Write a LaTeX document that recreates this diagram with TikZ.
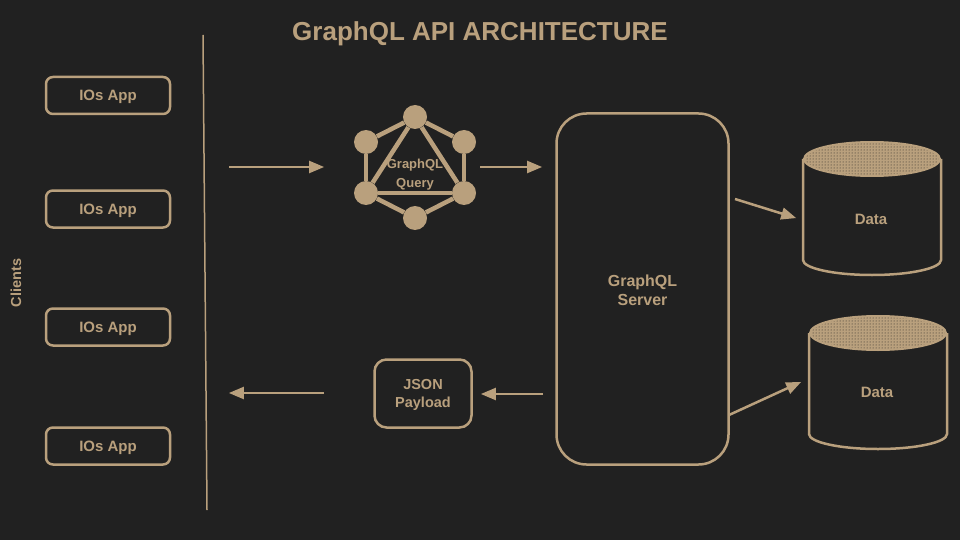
\documentclass[tikz,border=0pt]{standalone}
\usepackage{fontspec}
\setmainfont{Liberation Sans}
\usetikzlibrary{arrows,shapes.geometric,patterns}
\definecolor{tan}{HTML}{B9A07D}
\definecolor{bgdark}{HTML}{212121}
\tikzstyle{appbox}=[draw=tan,line width=2.5pt,rounded corners=7pt,minimum width=124pt,minimum height=37pt,inner sep=0pt,font=\fontsize{15}{18}\selectfont\bfseries,text=tan]
\tikzstyle{vertex}=[circle,fill=tan,minimum size=24pt,inner sep=0pt]
\tikzstyle{spoke}=[draw=tan,line width=4.5pt]
\tikzstyle{edge}=[draw=tan,line width=2.5pt,-triangle 45]
\tikzstyle{dbwall}=[draw=tan,line width=2.5pt]
\tikzstyle{dbtop}=[ellipse,draw=tan,line width=2pt,minimum width=136pt,minimum height=34pt,inner sep=0pt,preaction={fill=tan},pattern=dots,pattern color=bgdark]
\tikzstyle{tag}=[text=tan,align=center,font=\fontsize{14.5}{19}\selectfont\bfseries]
\begin{document}
\begin{tikzpicture}[x=1pt,y=-1pt]
	\fill[bgdark] (0,0) rectangle (960,540);
	\useasboundingbox (0,0) rectangle (960,540);

	\node[text=tan,font=\fontsize{26}{30}\selectfont\bfseries] (title) at (480,34) {GraphQL API ARCHITECTURE};
	\node[tag,rotate=90] (clients) at (16,283) {Clients};

	% clients
	\foreach \pos/\name in {{(108,95.5)/app1}, {(108,209)/app2}, {(108,327)/app3}, {(108,446)/app4}}
	\node[appbox,text depth=0pt] (\name) at \pos {IOs App};

	\coordinate (railtop) at (203,35);
	\coordinate (railend) at (207,510);
	\draw[tan,line width=1.5pt] (railtop) -- (railend);

	% query logo
	\foreach \pos/\name in {{(415,117)/top}, {(366,142)/ul}, {(464,142)/ur},
							{(366,193)/ll}, {(464,193)/lr}, {(415,218)/bot}}
	\node[vertex] (\name) at \pos {};

	\foreach \source/ \dest in {top/ul, ul/ll, ll/bot, bot/lr, lr/ur, ur/top, top/ll, ll/lr, lr/top}
	\path[spoke] (\source) -- (\dest);

	\node[tag,font=\fontsize{13}{19}\selectfont\bfseries] (query) at (415,174.5) {GraphQL\\Query};

	% server and json box
	\node[draw=tan,line width=2.5pt,rounded corners=30pt,minimum width=172pt,minimum height=351pt,inner sep=0pt,tag,font=\fontsize{16}{19}\selectfont\bfseries] (server) at (642.5,289) {GraphQL\\Server\vspace{-2pt}};
	\node[draw=tan,line width=2.5pt,rounded corners=12pt,minimum width=97pt,minimum height=68pt,inner sep=0pt,tag,font=\fontsize{14.5}{18}\selectfont\bfseries] (json) at (423,393.5) {JSON\\Payload\vspace{-3pt}};

	% data stores
	\node[dbtop] (top1) at (872,159) {};
	\path[dbwall] (top1.west) -- ++(0,101) arc[start angle=180,end angle=360,x radius=69pt,y radius=15pt] -- (top1.east);
	\node[tag,font=\fontsize{15}{19}\selectfont\bfseries] (data1) at (871,219) {Data};
	\node[dbtop] (top2) at (878,333) {};
	\path[dbwall] (top2.west) -- ++(0,101) arc[start angle=180,end angle=360,x radius=69pt,y radius=15pt] -- (top2.east);
	\node[tag,font=\fontsize{15}{19}\selectfont\bfseries] (data2) at (877,392) {Data};

	% Free ends of the arrows
	\foreach \pos/\name in {{(229,167)/a}, {(324,167)/b}, {(480,167)/c}, {(542,167)/d},
							{(735,199)/e}, {(796,218)/f}, {(729,415)/g}, {(801,382)/h},
							{(543,394)/i}, {(481,394)/j}, {(324,393)/k}, {(229,393)/l}}
	\node[coordinate] (\name) at \pos {};

	\foreach \source/ \dest in {a/b, c/d, e/f, g/h, i/j, k/l}
	\path[edge] (\source) -- (\dest);
\end{tikzpicture}
\end{document}
